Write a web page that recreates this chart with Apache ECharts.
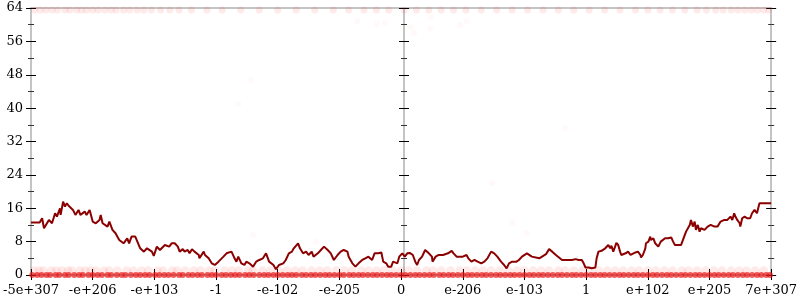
<!DOCTYPE html>
<html><head><meta charset="utf-8">
<script src="https://cdn.jsdelivr.net/npm/echarts@6/dist/echarts.min.js"></script>
<style>html,body{margin:0;padding:0;background:#fff}#c{width:800px;height:300px}</style>
</head><body><div id="c"></div>
<script>
// x positions are in tick-slot units (0 = -5e+307 ... 6 = 0 ... 12 = 7e+307)
const xTickLabels = ['-5e+307','-e+206','-e+103','-1','-e-102','-e-205','0','e-206','e-103','1','e+102','e+205','7e+307'];
const yTicks = [0, 64, 8];

const lineX = [0,0.14,0.18,0.21,0.24,0.29,0.32,0.34,0.39,0.42,0.47,0.48,0.52,0.55,0.58,0.61,0.64,0.68,0.72,0.77,0.80,0.87,0.90,0.95,1.00,1.03,1.05,1.11,1.13,1.16,1.24,1.27,1.32,1.37,1.43,1.45,1.50,1.56,1.59,1.63,1.69,1.72,1.77,1.83,1.88,1.96,1.99,2.04,2.09,2.12,2.17,2.24,2.28,2.33,2.38,2.41,2.46,2.49,2.54,2.57,2.61,2.65,2.72,2.73,2.80,2.82,2.88,2.93,2.98,3.04,3.07,3.12,3.17,3.20,3.25,3.30,3.33,3.36,3.41,3.46,3.49,3.54,3.60,3.65,3.70,3.76,3.81,3.86,3.93,3.97,4.02,4.09,4.13,4.18,4.23,4.26,4.33,4.36,4.41,4.46,4.50,4.55,4.58,4.65,4.70,4.75,4.81,4.86,4.91,4.97,5.02,5.07,5.13,5.15,5.21,5.26,5.31,5.37,5.42,5.47,5.53,5.57,5.63,5.68,5.71,5.76,5.79,5.84,5.87,5.94,5.97,6.02,6.06,6.10,6.14,6.19,6.23,6.26,6.29,6.34,6.39,6.42,6.45,6.50,6.51,6.56,6.61,6.68,6.71,6.76,6.82,6.85,6.90,6.93,7.00,7.06,7.09,7.14,7.19,7.24,7.30,7.35,7.40,7.46,7.51,7.56,7.62,7.67,7.71,7.75,7.80,7.87,7.91,7.96,8.04,8.12,8.24,8.35,8.40,8.45,8.51,8.56,8.61,8.67,8.72,8.77,8.83,8.88,8.93,8.96,8.99,9.04,9.09,9.15,9.17,9.20,9.25,9.31,9.36,9.39,9.41,9.44,9.47,9.49,9.52,9.55,9.57,9.64,9.68,9.72,9.73,9.80,9.84,9.88,9.89,9.92,9.96,9.97,10.01,10.04,10.05,10.09,10.12,10.17,10.21,10.28,10.33,10.38,10.41,10.44,10.49,10.54,10.57,10.60,10.62,10.65,10.68,10.70,10.73,10.76,10.78,10.81,10.84,10.86,10.92,10.97,11.02,11.05,11.08,11.10,11.13,11.18,11.21,11.24,11.26,11.29,11.32,11.34,11.37,11.40,11.42,11.45,11.49,11.50,11.53,11.57,11.61,11.66,11.69,11.73,11.74,11.77,11.81,11.86,12];
const lineY = [12.6,12.6,13.6,11.2,11.3,13.2,13.0,12.4,14.8,14.0,16.0,14.4,17.6,16.4,17.2,16.6,16.8,15.6,14.4,15.6,14.4,15.2,14.4,15.6,12.8,13.2,12.4,13.2,14.4,12.4,11.6,12.8,10.8,10.0,8.4,8.8,7.6,8.8,7.6,9.2,9.2,8.8,6.4,5.6,6.4,5.6,4.6,6.8,6.0,6.4,7.2,6.8,7.6,7.6,6.8,5.6,6.2,5.6,6.0,5.2,6.2,5.6,4.8,4.0,5.6,4.8,4.0,2.8,2.4,3.2,2.8,4.4,5.2,4.8,5.6,4.0,3.2,4.4,2.8,2.4,3.2,2.8,2.0,3.2,3.6,4.0,5.2,3.2,2.4,1.4,2.4,2.8,3.6,5.2,5.6,6.4,7.6,6.4,5.2,5.6,4.8,5.6,4.4,5.2,6.0,6.8,6.0,5.2,3.6,4.8,5.6,6.0,5.6,4.4,2.8,2.0,2.8,3.6,4.0,4.4,3.6,5.2,5.2,5.4,3.2,2.8,2.0,2.0,3.2,2.8,4.4,5.2,4.4,5.2,5.3,4.8,3.2,2.4,3.6,4.4,6.0,6.2,5.2,4.4,3.2,4.4,4.8,4.8,5.2,5.2,5.8,5.2,4.4,4.8,4.4,4.8,4.0,3.2,3.6,3.2,2.8,3.2,4.0,5.6,5.2,4.4,3.2,2.4,1.6,2.8,3.2,3.2,3.6,4.4,5.2,4.4,4.0,5.0,6.2,5.6,4.8,4.2,3.6,3.6,3.6,3.6,3.8,3.6,3.6,2.8,1.8,1.8,1.6,1.8,4.0,5.6,5.8,6.4,7.2,6.4,7.0,5.6,6.8,7.7,7.2,5.6,4.8,5.2,5.6,4.8,5.2,5.4,5.6,4.8,4.2,4.8,6.4,7.6,8.0,9.2,8.4,8.8,7.6,6.8,8.0,8.8,8.8,9.0,8.0,7.2,7.2,7.2,8.4,9.6,10.4,10.0,12.0,13.2,11.6,12.8,10.8,12.0,10.4,11.2,10.8,11.6,12.0,12.4,11.6,12.0,11.6,12.8,12.4,13.2,12.8,13.2,12.8,14.0,13.2,14.8,14.0,13.2,12.4,11.6,13.6,14.0,13.6,13.6,14.8,15.6,15.2,14.8,17.2,17.2,17.2];

const zeroX = [0.02,0.1,0.17,0.25,0.31,0.4,0.46,0.55,0.61,0.7,0.78,0.84,0.93,1.0,1.08,1.15,1.24,1.3,1.39,1.47,1.53,1.62,1.7,1.77,1.85,1.92,2.01,2.08,2.16,2.23,2.31,2.4,2.46,2.55,2.62,2.7,2.77,2.86,2.93,3.0,3.09,3.16,3.24,3.31,3.38,3.47,3.54,3.61,3.7,3.78,3.85,3.93,4.0,4.08,4.16,4.23,4.3,4.39,4.46,4.54,4.61,4.69,4.77,4.84,4.92,5.0,5.07,5.16,5.23,5.31,5.38,5.46,5.54,5.61,5.69,5.77,5.84,5.92,6.0,6.07,6.15,6.23,6.3,6.38,6.46,6.53,6.62,6.69,6.77,6.84,6.92,7.0,7.08,7.15,7.23,7.31,7.38,7.46,7.54,7.61,7.69,7.77,7.84,7.92,8.0,8.08,8.15,8.23,8.3,8.38,8.46,8.54,8.61,8.69,8.77,8.84,8.92,9.0,9.08,9.15,9.23,9.3,9.38,9.46,9.54,9.61,9.69,9.77,9.84,9.92,10.0,10.08,10.15,10.23,10.31,10.38,10.46,10.54,10.61,10.69,10.77,10.84,10.92,11.0,11.08,11.15,11.23,11.31,11.38,11.46,11.54,11.61,11.69,11.77,11.84,11.92,11.98];
const lowX = [0.05,0.13,0.2,0.33,0.41,0.5,0.6,0.66,0.79,0.88,0.97,1.05,1.18,1.27,1.4,1.55,1.66,1.79,1.9,2.05,2.14,2.29,2.37,2.5,2.64,2.75,2.89,2.98,3.14,3.26,3.37,3.52,3.6,3.75,3.88,4.02,4.15,4.28,4.4,4.55,4.68,4.8,4.95,5.08,5.2,5.35,5.47,5.6,5.72,5.86,6.0,6.12,6.26,6.41,6.52,6.65,6.8,6.95,7.06,7.2,7.33,7.46,7.6,7.74,7.88,8.0,8.14,8.27,8.4,8.55,8.66,8.8,8.94,9.06,9.2,9.34,9.47,9.6,9.74,9.86,10.0,10.13,10.27,10.4,10.55,10.66,10.8,10.94,11.07,11.2,11.35,11.48,11.6,11.74,11.88];
const topX = [0.06,0.15,0.24,0.34,0.43,0.55,0.63,0.74,0.82,0.9,1.0,1.09,1.2,1.3,1.38,1.5,1.6,1.72,1.83,1.95,2.1,2.25,2.4,2.6,2.85,3.1,3.4,3.7,4.0,4.3,4.6,4.9,5.15,5.4,5.6,5.8,6.05,6.25,6.45,6.65,6.85,7.05,7.3,7.55,7.8,8.05,8.3,8.55,8.8,9.05,9.3,9.55,9.8,10.0,10.2,10.4,10.6,10.8,10.95,11.1,11.22,11.35,11.46,11.57,11.68,11.78,11.88,11.96];
const strayX = [5.29,5.61,5.74,6.16,6.21,6.47,6.48,6.96,7.06,7.48,7.80,8.03,3.60,4.62,3.57,3.36,8.67];
const strayY = [60.9,60.2,60.4,59.4,58.0,59.0,61.8,59.9,60.9,22.0,12.5,10.1,9.6,7.9,46.7,41.0,35.2];

const lineData = lineX.map((x,i)=>[x,lineY[i]]);
const zeroData = zeroX.map(x=>[x,0]);
const lowData = lowX.map(x=>[x,1]);
const topData = topX.map(x=>[x,63.5]);
const strayData = strayX.map((x,i)=>[x,strayY[i]]);

const FONT = 'DejaVu Serif';
const grey = '#c4c4c4';
function yAx(pos, inside, extra){
  return Object.assign({
    type:'value', position:pos, min:yTicks[0], max:yTicks[1], interval:yTicks[2],
    axisLine:{show:true, lineStyle:{color:grey, width:2}},
    axisTick:{show:true, inside:inside, length:5, lineStyle:{color:'#000', width:1}},
    minorTick:{show:true, splitNumber:2, length:3, lineStyle:{color:'#333', width:1}},
    axisLabel:{show:false}, splitLine:{show:false}
  }, extra||{});
}
const chart = echarts.init(document.getElementById('c'), null, {renderer:'canvas'});
chart.setOption({
  animation:false,
  grid:{left:28, right:26, top:8, bottom:25, containLabel:false},
  xAxis:[
    {type:'value', min:0, max:12, interval:1, position:'bottom',
     axisLine:{show:true, onZero:false, lineStyle:{color:grey, width:2}},
     axisTick:{show:true, inside:false, length:5, lineStyle:{color:'#000'}},
     axisLabel:{show:true, margin:9, fontFamily:FONT, fontSize:13, color:'#000',
       formatter:v=>xTickLabels[Math.round(v)]},
     splitLine:{show:false}},
    {type:'value', min:0, max:12, interval:1, position:'bottom',
     axisLine:{show:false, onZero:false}, axisTick:{show:true, inside:true, length:6, lineStyle:{color:'#000'}},
     axisLabel:{show:false}, splitLine:{show:false}},
    {type:'value', min:0, max:12, interval:1, position:'top',
     axisLine:{show:true, onZero:false, lineStyle:{color:grey, width:2}}, axisTick:{show:false},
     axisLabel:{show:false}, splitLine:{show:false}}
  ],
  yAxis:[
    yAx('left', false, {axisLabel:{show:true, margin:8, fontFamily:FONT, fontSize:13, color:'#000'}}),
    yAx('left', true),
    yAx('left', false, {offset:-373}),
    yAx('left', true, {offset:-373}),
    yAx('right', false),
    yAx('right', true)
  ],
  series:[
    {type:'scatter', data:topData, symbolSize:7, itemStyle:{color:'rgba(255,40,40,0.12)'}, z:2},
    {type:'scatter', data:strayData, symbolSize:6, itemStyle:{color:'rgba(255,60,60,0.04)'}, z:2},
    {type:'scatter', data:lowData, symbolSize:9, itemStyle:{color:'rgba(255,40,40,0.12)'}, z:2},
    {type:'scatter', data:zeroData, symbolSize:6, itemStyle:{color:'rgba(232,20,20,0.85)'}, z:3, clip:true},
    {type:'line', data:lineData, showSymbol:false, symbol:'none', lineStyle:{color:'#8b0000', width:2}, z:5}
  ]
});
</script></body></html>
